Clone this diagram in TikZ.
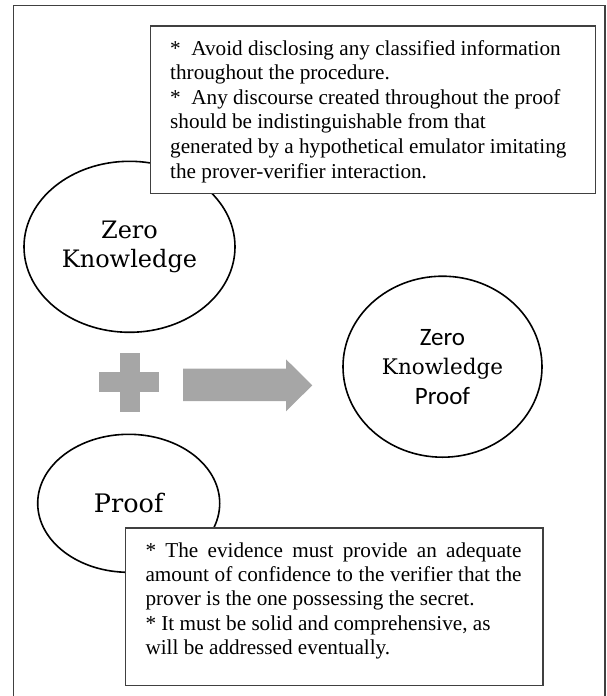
\documentclass[tikz,border=0pt]{standalone}
\usepackage{fontspec}
\setmainfont{Liberation Serif}
\newfontfamily\zkserif{DejaVu Serif}
\newfontfamily\zksans{Carlito}
\usetikzlibrary{shapes.geometric}
\begin{document}
\begin{tikzpicture}[x=1pt,y=-1pt,
  frameline/.style={draw=black!75, line width=1.2pt},
  bubble/.style={ellipse, draw=black, line width=1.6pt, inner sep=0pt, align=center},
  notebox/.style={rectangle, draw=black!75, line width=1.2pt, fill=white, inner sep=0pt},
  notetext/.style={anchor=base west, inner sep=0pt},
  blockgray/.style={fill=black!35}
]
\useasboundingbox (0,0) rectangle (606,696);
% outer frame (open at the bottom)
\coordinate (fbl) at (13.5,696);
\coordinate (ftl) at (13.5,5.7);
\coordinate (ftr) at (605,5.7);
\coordinate (fbr) at (605,696);
\draw[frameline] (fbl) -- (ftl) -- (ftr) -- (fbr);

% ellipses
\node[bubble, minimum width=211pt, minimum height=171pt,
      font=\zkserif\fontsize{24}{29.7}\selectfont] (zk) at (129.5,246.8) {Zero\\Knowledge};
\node[bubble, minimum width=199pt, minimum height=181pt,
      font=\fontsize{25}{29.5}\selectfont] (zkp) at (442.5,366.7)
      {\zksans Zero\\\zkserif\fontsize{21.5}{29.5}\selectfont Knowledge\\\zksans Proof};
\node[bubble, minimum width=182pt, minimum height=138pt,
      font=\zkserif\fontsize{25.5}{30}\selectfont] (pf) at (128.7,503.3) {Proof};

% plus sign
\fill[blockgray] (99.3,372.3) rectangle (158.5,392.3);
\fill[blockgray] (119.8,352.7) rectangle (139.5,412.3);

% block arrow
\fill[blockgray] (183,368.7) -- (286,368.7) -- (286,359.3) -- (312.3,385.3)
  -- (286,411.3) -- (286,401) -- (183,401) -- cycle;

% top note
\node[notebox, minimum width=444.5pt, minimum height=167.4pt, anchor=north west] (topbox) at (150,25.3) {};
\node[notetext] (toptext) at ([xshift=20pt,yshift=-29.8pt]topbox.north west)
 {\parbox[t]{430pt}{\fontsize{21.2}{24.6}\selectfont
 *\ \ Avoid disclosing any classified information\\{}
 throughout the procedure.\\{}
 *\ \ Any discourse created throughout the proof\\{}
 should be indistinguishable from that\\{}
 generated by a hypothetical emulator imitating\\{}
 the prover-verifier interaction.}};

% bottom note
\node[notebox, minimum width=417.4pt, minimum height=157.7pt, anchor=north west] (botbox) at (124.9,527.3) {};
\node[notetext] (bottext) at ([xshift=20.4pt,yshift=-29.7pt]botbox.north west)
 {\parbox[t]{376pt}{\fontsize{21.2}{24.4}\selectfont
 \makebox[376pt][s]{* The evidence must provide an adequate}\\{}
 \makebox[376pt][s]{amount of confidence to the verifier that the}\\{}
 prover is the one possessing the secret.\\{}
 * It must be solid and comprehensive, as\\{}
 will be addressed eventually.}};
\end{tikzpicture}
\end{document}
